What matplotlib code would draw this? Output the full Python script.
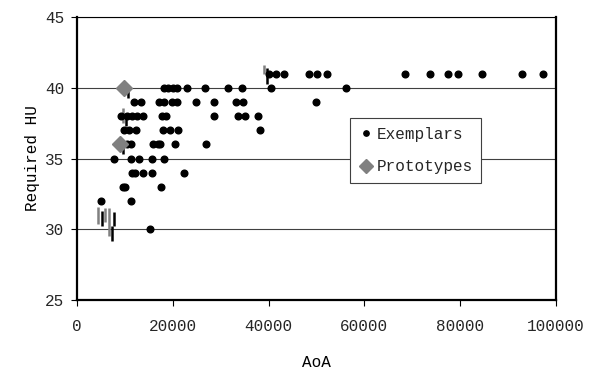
import matplotlib
matplotlib.use("Agg")
import matplotlib.pyplot as plt

plt.rcParams['font.family'] = ['Liberation Mono', 'DejaVu Sans']
plt.rcParams['text.color'] = '#262626'
plt.rcParams['xtick.labelcolor'] = '#262626'
plt.rcParams['ytick.labelcolor'] = '#262626'

# exemplar points, grouped by required HU
ex_aoa = [40170, 41630, 43160, 48430, 50100, 52200, 68410, 73640, 77470, 79560, 84460, 92820, 97220,
          18100, 19040, 19980, 20920, 23010, 26630, 31530, 34460, 40590, 56210,
          11920, 13280, 17050, 18100, 19870, 20920, 24830, 28510, 33260, 34660, 49940,
          9200, 10360, 11400, 12550, 13700, 17780, 18620, 28510, 33620, 35150, 37720,
          9730, 10880, 12240, 17990, 19460, 21020, 38140,
          10460, 11300, 15960, 16950, 17360, 20500, 26990,
          7800, 11230, 13030, 15630, 18200,
          11510, 12030, 13740, 15630, 22240,
          9560, 9980, 17510,
          4960, 11230,
          15270]
ex_hu = [41] * 13 + [40] * 10 + [39] * 11 + [38] * 11 + [37] * 7 + [36] * 7 + [35] * 5 + [34] * 5 + [33] * 3 + [32] * 2 + [30]

# prototypes
pr_aoa = [9830, 9000]
pr_hu = [40, 36]

# vertical range bars (x, low, high, colour)
bar_x = [4456, 5293, 5920, 6757, 7385, 7803, 10730, 9690, 10230, 9690, 39120, 39750]
bar_lo = [30.4, 30.2, 30.5, 29.5, 29.2, 30.2, 39.25, 37.5, 37.3, 35.3, 40.95, 40.3]
bar_hi = [31.6, 31.3, 31.5, 31.5, 30.2, 31.25, 39.85, 38.6, 38.05, 35.8, 41.6, 41.4]
bar_col = ['#808080', 'black', '#808080', '#808080', 'black', 'black',
           'black', '#808080', 'black', 'black', '#808080', 'black']

fig = plt.figure(figsize=(5.89, 3.73), dpi=100)
ax = fig.add_axes([0.1307, 0.1957, 0.8133, 0.7587])

for y in [30, 35, 40, 45]:
    ax.axhline(y, color='#404040', lw=0.8, zorder=0)

ax.vlines(bar_x, bar_lo, bar_hi, colors=bar_col, lw=1.8, zorder=2)

ax.plot(ex_aoa, ex_hu, 'o', color='black', ms=4.8, ls='none', label='Exemplars', zorder=3)
ax.plot(pr_aoa, pr_hu, 'D', color='#808080', ms=8.5, ls='none', label='Prototypes', zorder=4)

ax.set_xlim(0, 100000)
ax.set_ylim(25, 45)
ax.set_xticks(range(0, 100001, 20000))
ax.set_yticks(range(25, 46, 5))
ax.tick_params(direction='out', length=4, width=0.8, labelsize=11.5, pad=5)
ax.tick_params(axis='x', pad=10)
for s in ['left', 'bottom', 'right']:
    ax.spines[s].set_linewidth(1.6)
ax.spines['top'].set_linewidth(0.8)

ax.set_xlabel('AoA', fontsize=11.5, labelpad=15)
ax.set_ylabel('Required HU', fontsize=11.5, labelpad=4)

leg = ax.legend(loc='upper left', bbox_to_anchor=(0.57, 0.643), fontsize=11.5,
                fancybox=False, edgecolor='#404040', framealpha=1, handletextpad=0.2,
                handlelength=0.9, borderpad=0.55, labelspacing=1.1, markerscale=0.8,
                borderaxespad=0)
leg.get_frame().set_linewidth(0.8)

fig.savefig('out.png', dpi=100)
